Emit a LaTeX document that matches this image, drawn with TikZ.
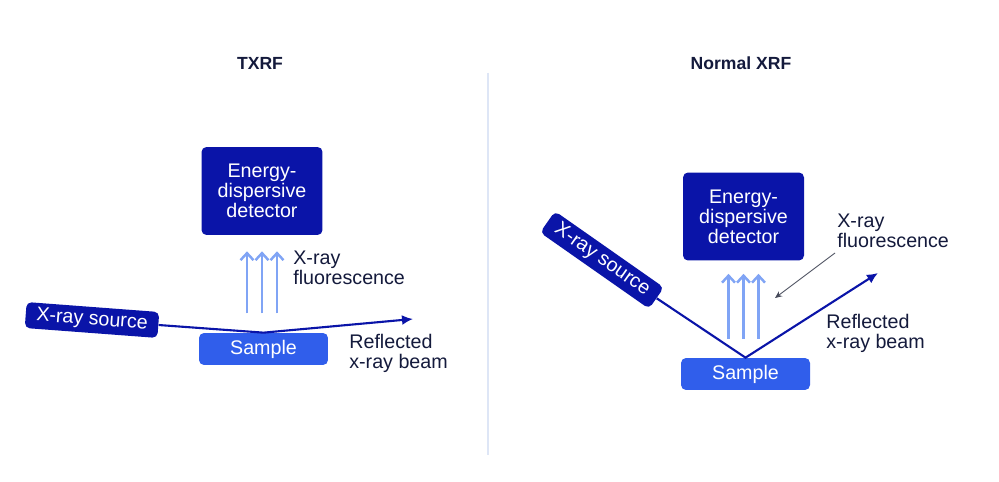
\documentclass[tikz,border=0pt]{standalone}
\usepackage{fontspec}
\setmainfont{Liberation Sans}
\usepackage{tikz}
\usetikzlibrary{arrows.meta}

\definecolor{darkblue}{RGB}{10,20,168}
\definecolor{midblue}{RGB}{48,94,235}
\definecolor{lightblue}{RGB}{128,164,245}
\definecolor{inkblue}{RGB}{20,26,60}
\definecolor{divider}{RGB}{222,230,246}
\definecolor{pointergray}{RGB}{70,74,90}

\tikzset{
  txt/.style={font=\fontsize{11.2}{11.3}\selectfont},
  detbox/.style={txt, fill=darkblue, text=white, rounded corners=1mm,
    minimum width=2.42cm, minimum height=1.76cm, align=center, inner sep=0pt},
  samplebox/.style={txt, fill=midblue, text=white, rounded corners=1mm,
    minimum width=2.58cm, minimum height=0.64cm, inner sep=0pt},
  sourcebox/.style={txt, fill=darkblue, text=white, rounded corners=1mm,
    minimum width=2.66cm, minimum height=0.52cm, inner sep=0pt},
  lbl/.style={txt, text=inkblue, align=left, inner sep=0pt, anchor=west},
  paneltitle/.style={text=inkblue, font=\bfseries\fontsize{10}{12}\selectfont},
  beam/.style={darkblue, line width=1.2pt, -{Latex[length=2.2mm,width=2mm]}},
  fluo/.style={lightblue, line width=1.4pt, -{Straight Barb[length=1.4mm,width=2.6mm]}},
  pointer/.style={pointergray, line width=0.5pt, -{Stealth[length=1.4mm,width=1.2mm]}},
}

\begin{document}
\begin{tikzpicture}[x=0.02cm,y=-0.02cm]
    \useasboundingbox[fill=white] (0,0) rectangle (999,482);
    \draw[divider,line width=1pt] (488,73) -- (488,455);

    % TXRF
    \node[paneltitle] (title1) at (260,63) {TXRF};
    \node[detbox] (det1) at (262,191) {Energy-\\dispersive\\detector};
    \node[samplebox] (smp1) at (263.5,349) {Sample};
    \node[sourcebox,rotate=-4.3] (src1) at (92,320) {X-ray source};
    \coordinate (refl1) at (413,319);
    \foreach \dx in {-3,0,3}
      \draw[fluo] ([xshift=\dx mm,yshift=-15.6mm]det1.south) -- ([xshift=\dx mm,yshift=-3.2mm]det1.south);
    \draw[beam] (src1.east) -- (smp1.north) -- (refl1);
    \node[lbl] (flu1) at (293,268) {X-ray\\fluorescence};
    \node[lbl] (rb1) at (349,353) {Reflected\\x-ray beam};

    % Normal XRF
    \node[paneltitle] (title2) at (741,63) {Normal XRF};
    \node[detbox] (det2) at (743.5,216.5) {Energy-\\dispersive\\detector};
    \node[samplebox] (smp2) at (745.5,374) {Sample};
    \node[sourcebox,rotate=-35] (src2) at (602,260) {X-ray source};
    \coordinate (refl2) at (878,273);
    \foreach \dx in {-3,0,3}
      \draw[fluo] ([xshift=\dx mm,yshift=-15.6mm]det2.south) -- ([xshift=\dx mm,yshift=-2.6mm]det2.south);
    \draw[beam] (src2.east) -- (smp2.north) -- (refl2);
    \node[lbl] (flu2) at (837,231) {X-ray\\fluorescence};
    \coordinate (ptr1) at (835,253);
    \coordinate (ptr2) at (775,298);
    \draw[pointer] (ptr1) -- (ptr2);
    \node[lbl] (rb2) at (826,333) {Reflected\\x-ray beam};
\end{tikzpicture}
\end{document}
